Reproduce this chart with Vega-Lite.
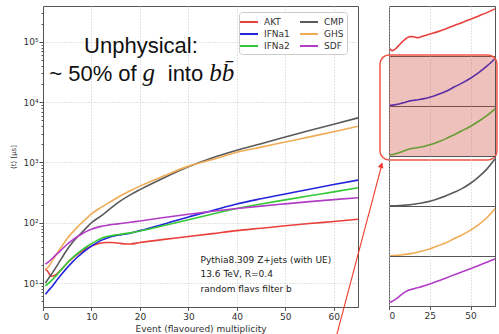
{
  "$schema": "https://vega.github.io/schema/vega-lite/v6.json",
  "background": "white",
  "padding": {"left": 9, "top": 5, "right": 0, "bottom": 0},
  "autosize": {"type": "pad"},
  "bounds": "flush",
  "spacing": 31,
  "config": {
    "font": "DejaVu Sans",
    "view": {"stroke": "#555", "strokeWidth": 1},
    "axis": {
      "labelFont": "DejaVu Sans", "labelFontSize": 9, "labelColor": "#333",
      "titleFont": "DejaVu Sans", "titleFontSize": 9, "titleFontWeight": "normal", "titleColor": "#333",
      "domainColor": "#555", "tickColor": "#555", "gridColor": "#c8c8c8", "gridDash": [1, 2]
    }
  },
  "datasets": {
    "curves": [
      {"series":"AKT","x":0.5,"y":17},{"series":"AKT","x":1,"y":15.5},{"series":"AKT","x":1.7,"y":13},{"series":"AKT","x":2.5,"y":13.5},{"series":"AKT","x":3,"y":14.5},{"series":"AKT","x":4,"y":17.5},{"series":"AKT","x":5,"y":21.5},{"series":"AKT","x":6,"y":25.5},{"series":"AKT","x":7,"y":29.5},{"series":"AKT","x":8,"y":33.5},{"series":"AKT","x":9,"y":37.5},{"series":"AKT","x":10,"y":41},{"series":"AKT","x":11,"y":44},{"series":"AKT","x":12,"y":46},{"series":"AKT","x":13,"y":47},{"series":"AKT","x":14,"y":47},{"series":"AKT","x":15,"y":46.5},{"series":"AKT","x":16,"y":45.5},{"series":"AKT","x":17,"y":44.5},{"series":"AKT","x":18,"y":44.5},{"series":"AKT","x":20,"y":47},{"series":"AKT","x":25,"y":53},{"series":"AKT","x":30,"y":59},{"series":"AKT","x":35,"y":66},{"series":"AKT","x":40,"y":74},{"series":"AKT","x":45,"y":81},{"series":"AKT","x":50,"y":89},{"series":"AKT","x":55,"y":97},{"series":"AKT","x":60,"y":105},{"series":"AKT","x":65,"y":114},
      {"series":"IFNa1","x":0.5,"y":6.5},{"series":"IFNa1","x":1,"y":7.3},{"series":"IFNa1","x":2,"y":9},{"series":"IFNa1","x":3,"y":11.5},{"series":"IFNa1","x":4,"y":14.5},{"series":"IFNa1","x":5,"y":18},{"series":"IFNa1","x":6,"y":22},{"series":"IFNa1","x":7,"y":26.5},{"series":"IFNa1","x":8,"y":31},{"series":"IFNa1","x":9,"y":36},{"series":"IFNa1","x":10,"y":41},{"series":"IFNa1","x":11,"y":46},{"series":"IFNa1","x":12,"y":51},{"series":"IFNa1","x":13,"y":55},{"series":"IFNa1","x":14,"y":58.5},{"series":"IFNa1","x":15,"y":61},{"series":"IFNa1","x":16,"y":63},{"series":"IFNa1","x":18,"y":67},{"series":"IFNa1","x":20,"y":74},{"series":"IFNa1","x":25,"y":95},{"series":"IFNa1","x":30,"y":125},{"series":"IFNa1","x":35,"y":160},{"series":"IFNa1","x":40,"y":205},{"series":"IFNa1","x":45,"y":250},{"series":"IFNa1","x":50,"y":300},{"series":"IFNa1","x":55,"y":360},{"series":"IFNa1","x":60,"y":430},{"series":"IFNa1","x":65,"y":510},
      {"series":"IFNa2","x":0.5,"y":9},{"series":"IFNa2","x":1,"y":9.7},{"series":"IFNa2","x":2,"y":11.5},{"series":"IFNa2","x":3,"y":14},{"series":"IFNa2","x":4,"y":17.5},{"series":"IFNa2","x":5,"y":21.5},{"series":"IFNa2","x":6,"y":26},{"series":"IFNa2","x":7,"y":30.5},{"series":"IFNa2","x":8,"y":35},{"series":"IFNa2","x":9,"y":40},{"series":"IFNa2","x":10,"y":45},{"series":"IFNa2","x":11,"y":50},{"series":"IFNa2","x":12,"y":55},{"series":"IFNa2","x":13,"y":58.5},{"series":"IFNa2","x":14,"y":61},{"series":"IFNa2","x":15,"y":63},{"series":"IFNa2","x":16,"y":64.5},{"series":"IFNa2","x":18,"y":68},{"series":"IFNa2","x":20,"y":73},{"series":"IFNa2","x":25,"y":90},{"series":"IFNa2","x":30,"y":112},{"series":"IFNa2","x":35,"y":140},{"series":"IFNa2","x":40,"y":172},{"series":"IFNa2","x":45,"y":205},{"series":"IFNa2","x":50,"y":240},{"series":"IFNa2","x":55,"y":280},{"series":"IFNa2","x":60,"y":325},{"series":"IFNa2","x":65,"y":380},
      {"series":"CMP","x":0.5,"y":10},{"series":"CMP","x":1,"y":11.5},{"series":"CMP","x":2,"y":15},{"series":"CMP","x":3,"y":20},{"series":"CMP","x":4,"y":27},{"series":"CMP","x":5,"y":36},{"series":"CMP","x":6,"y":46},{"series":"CMP","x":7,"y":57},{"series":"CMP","x":8,"y":69},{"series":"CMP","x":9,"y":83},{"series":"CMP","x":10,"y":100},{"series":"CMP","x":12,"y":130},{"series":"CMP","x":14,"y":175},{"series":"CMP","x":16,"y":230},{"series":"CMP","x":18,"y":290},{"series":"CMP","x":20,"y":355},{"series":"CMP","x":25,"y":560},{"series":"CMP","x":30,"y":850},{"series":"CMP","x":35,"y":1200},{"series":"CMP","x":40,"y":1600},{"series":"CMP","x":45,"y":2050},{"series":"CMP","x":50,"y":2650},{"series":"CMP","x":55,"y":3400},{"series":"CMP","x":60,"y":4300},{"series":"CMP","x":65,"y":5500},
      {"series":"GHS","x":0.5,"y":17},{"series":"GHS","x":1,"y":18},{"series":"GHS","x":2,"y":24},{"series":"GHS","x":3,"y":32},{"series":"GHS","x":4,"y":42},{"series":"GHS","x":5,"y":55},{"series":"GHS","x":6,"y":68},{"series":"GHS","x":7,"y":83},{"series":"GHS","x":8,"y":100},{"series":"GHS","x":9,"y":118},{"series":"GHS","x":10,"y":140},{"series":"GHS","x":12,"y":180},{"series":"GHS","x":14,"y":225},{"series":"GHS","x":16,"y":280},{"series":"GHS","x":18,"y":340},{"series":"GHS","x":20,"y":405},{"series":"GHS","x":25,"y":600},{"series":"GHS","x":30,"y":870},{"series":"GHS","x":35,"y":1120},{"series":"GHS","x":40,"y":1480},{"series":"GHS","x":45,"y":1800},{"series":"GHS","x":50,"y":2190},{"series":"GHS","x":55,"y":2660},{"series":"GHS","x":60,"y":3240},{"series":"GHS","x":65,"y":4000},
      {"series":"SDF","x":0.5,"y":20.5},{"series":"SDF","x":1,"y":22},{"series":"SDF","x":2,"y":26},{"series":"SDF","x":3,"y":31},{"series":"SDF","x":4,"y":37},{"series":"SDF","x":5,"y":44},{"series":"SDF","x":6,"y":51},{"series":"SDF","x":7,"y":58},{"series":"SDF","x":8,"y":65},{"series":"SDF","x":9,"y":72},{"series":"SDF","x":10,"y":78},{"series":"SDF","x":11,"y":83},{"series":"SDF","x":12,"y":87},{"series":"SDF","x":13,"y":90},{"series":"SDF","x":14,"y":93},{"series":"SDF","x":15,"y":95},{"series":"SDF","x":16,"y":97},{"series":"SDF","x":18,"y":102},{"series":"SDF","x":20,"y":107},{"series":"SDF","x":25,"y":122},{"series":"SDF","x":30,"y":138},{"series":"SDF","x":35,"y":155},{"series":"SDF","x":40,"y":172},{"series":"SDF","x":45,"y":189},{"series":"SDF","x":50,"y":206},{"series":"SDF","x":55,"y":224},{"series":"SDF","x":60,"y":242},{"series":"SDF","x":65,"y":260}
    ]
  },
  "hconcat": [
    {
      "width": 315,
      "height": 301,
      "encoding": {
        "x": {"field": "x", "type": "quantitative", "scale": {"domain": [0, 65], "nice": false, "zero": false},
          "axis": {"title": "Event (flavoured) multiplicity", "values": [0, 10, 20, 30, 40, 50, 60], "grid": true, "tickSize": 3.5, "labelPadding": 2, "titlePadding": 3}},
        "y": {"field": "y", "type": "quantitative", "scale": {"type": "log", "domain": [4, 395000], "nice": false},
          "axis": {"title": "⟨t⟩ [μs]", "titleFontSize": 7, "titlePadding": 6, "labelPadding": 1, "labelOverlap": false,
            "values": [5,6,7,8,9,10,20,30,40,50,60,70,80,90,100,200,300,400,500,600,700,800,900,1000,2000,3000,4000,5000,6000,7000,8000,9000,10000,20000,30000,40000,50000,60000,70000,80000,90000,100000,200000,300000],
            "labelExpr": "datum.value==10?'10¹':datum.value==100?'10²':datum.value==1000?'10³':datum.value==10000?'10⁴':datum.value==100000?'10⁵':''",
            "tickSize": {"condition": {"test": "indexof([10,100,1000,10000,100000], datum.value) >= 0", "value": 4}, "value": 2},
            "gridOpacity": {"condition": {"test": "indexof([10,100,1000,10000,100000], datum.value) >= 0", "value": 1}, "value": 0}}}
      },
      "layer": [
        {
          "data": {"name": "curves"},
          "mark": {"type": "line", "strokeWidth": 1.6, "interpolate": "monotone"},
          "encoding": {
            "color": {"field": "series", "type": "nominal",
              "scale": {"domain": ["AKT", "IFNa1", "IFNa2", "CMP", "GHS", "SDF"], "range": ["#e8413c", "#2424dc", "#34c834", "#5a5a5a", "#f0ac55", "#b23cc6"]},
              "legend": {"title": null, "orient": "none", "legendX": 196, "legendY": 6, "columns": 2,
                "symbolType": "M-1.5,0H1.5", "symbolStrokeWidth": 2, "symbolSize": 144, "labelFontSize": 9, "labelColor": "#333",
                "labelOffset": 8, "columnPadding": 6, "rowPadding": 0, "padding": 3,
                "strokeColor": "#ccc", "fillColor": "white", "cornerRadius": 3}}
          }
        },
        {
          "data": {"values": [
            {"t": "Unphysical:", "x": 20.2, "y": 65000},
            {"t": "~ 50% of", "x": 10.3, "y": 22400},
            {"t": "into", "x": 29.4, "y": 22400}
          ]},
          "mark": {"type": "text", "font": "Liberation Sans", "fontSize": 22, "align": "center", "baseline": "alphabetic", "color": "#111"},
          "encoding": {"text": {"field": "t"}}
        },
        {
          "data": {"values": [
            {"t": "g", "x": 21.8, "y": 22400},
            {"t": "bb̄", "x": 36.9, "y": 22400}
          ]},
          "mark": {"type": "text", "font": "Liberation Serif", "fontStyle": "italic", "fontSize": 25, "align": "center", "baseline": "alphabetic", "color": "#111"},
          "encoding": {"text": {"field": "t"}}
        },
        {
          "data": {"values": [
            {"t": "Pythia8.309 Z+jets (with UE)", "x": 32.5, "y": 21.4},
            {"t": "13.6 TeV, R=0.4", "x": 32.5, "y": 12.6},
            {"t": "random flavs filter b", "x": 32.5, "y": 7.2}
          ]},
          "mark": {"type": "text", "font": "DejaVu Sans", "fontSize": 9, "align": "left", "baseline": "alphabetic", "color": "#222"},
          "encoding": {"text": {"field": "t"}}
        },
        {
          "data": {"values": [{"x": 60.6, "y": 1.37, "x2": 70.0, "y2": 977}]},
          "mark": {"type": "rule", "color": "#f03a2a", "strokeWidth": 1.1},
          "encoding": {"x2": {"field": "x2"}, "y2": {"field": "y2"}}
        },
        {
          "data": {"values": [{"x": 69.8, "y": 900}]},
          "mark": {"type": "point", "shape": "triangle-up", "angle": 14.5, "size": 35, "filled": true, "color": "#f03a2a", "opacity": 1},
          "encoding": {}
        }
      ]
    },
    {
      "spacing": 0,
      "bounds": "flush",
      "vconcat": [
        {
          "width": 106, "height": 50,
          "data": {"name": "curves"},
          "transform": [{"filter": "datum.series == 'AKT'"}],
          "mark": {"type": "line", "color": "#e8413c", "strokeWidth": 1.6, "interpolate": "monotone"},
          "encoding": {
            "x": {"field": "x", "type": "quantitative", "scale": {"domain": [0, 65], "nice": false, "zero": false}, "axis": {"labels": false, "ticks": false, "domain": false, "title": null, "values": [0, 25, 50], "grid": true}},
            "y": {"field": "y", "type": "quantitative", "scale": {"domain": [0, 121], "nice": false}, "axis": null}
          }
        },
        {
          "width": 106, "height": 50,
          "encoding": {
            "x": {"field": "x", "type": "quantitative", "scale": {"domain": [0, 65], "nice": false, "zero": false}, "axis": {"labels": false, "ticks": false, "domain": false, "title": null, "values": [0, 25, 50], "grid": true}},
            "y": {"field": "y", "type": "quantitative", "scale": {"domain": [0, 540], "nice": false}, "axis": null}
          },
          "layer": [
            {
              "data": {"name": "curves"},
              "transform": [{"filter": "datum.series == 'IFNa1'"}],
              "mark": {"type": "line", "color": "#2424dc", "strokeWidth": 1.6, "interpolate": "monotone"}
            },
            {
              "data": {"values": [{"x": 0, "x2": 65, "y": 0, "y2": 540}]},
              "mark": {"type": "rect", "color": "#cc4433", "opacity": 0.33},
              "encoding": {"x2": {"field": "x2"}, "y2": {"field": "y2"}}
            }
          ]
        },
        {
          "width": 106, "height": 50,
          "encoding": {
            "x": {"field": "x", "type": "quantitative", "scale": {"domain": [0, 65], "nice": false, "zero": false}, "axis": {"labels": false, "ticks": false, "domain": false, "title": null, "values": [0, 25, 50], "grid": true}},
            "y": {"field": "y", "type": "quantitative", "scale": {"domain": [0, 403], "nice": false}, "axis": null}
          },
          "layer": [
            {
              "data": {"name": "curves"},
              "transform": [{"filter": "datum.series == 'IFNa2'"}],
              "mark": {"type": "line", "color": "#34c834", "strokeWidth": 1.6, "interpolate": "monotone"}
            },
            {
              "data": {"values": [{"x": 0, "x2": 65, "y": 0, "y2": 403}]},
              "mark": {"type": "rect", "color": "#cc4433", "opacity": 0.33},
              "encoding": {"x2": {"field": "x2"}, "y2": {"field": "y2"}}
            },
            {
              "data": {"values": [{"x": -5.5, "x2": 66.2, "y": -32, "y2": 814}]},
              "mark": {"type": "rect", "filled": false, "fill": null, "stroke": "#f05545", "strokeWidth": 1.5, "cornerRadius": 9},
              "encoding": {"x2": {"field": "x2"}, "y2": {"field": "y2"}}
            }
          ]
        },
        {
          "width": 106, "height": 50,
          "data": {"name": "curves"},
          "transform": [{"filter": "datum.series == 'CMP'"}],
          "mark": {"type": "line", "color": "#5a5a5a", "strokeWidth": 1.6, "interpolate": "monotone"},
          "encoding": {
            "x": {"field": "x", "type": "quantitative", "scale": {"domain": [0, 65], "nice": false, "zero": false}, "axis": {"labels": false, "ticks": false, "domain": false, "title": null, "values": [0, 25, 50], "grid": true}},
            "y": {"field": "y", "type": "quantitative", "scale": {"domain": [0, 5830], "nice": false}, "axis": null}
          }
        },
        {
          "width": 106, "height": 50,
          "data": {"name": "curves"},
          "transform": [{"filter": "datum.series == 'GHS'"}],
          "mark": {"type": "line", "color": "#f0ac55", "strokeWidth": 1.6, "interpolate": "monotone"},
          "encoding": {
            "x": {"field": "x", "type": "quantitative", "scale": {"domain": [0, 65], "nice": false, "zero": false}, "axis": {"labels": false, "ticks": false, "domain": false, "title": null, "values": [0, 25, 50], "grid": true}},
            "y": {"field": "y", "type": "quantitative", "scale": {"domain": [0, 4240], "nice": false}, "axis": null}
          }
        },
        {
          "width": 106, "height": 50,
          "data": {"name": "curves"},
          "transform": [{"filter": "datum.series == 'SDF'"}],
          "mark": {"type": "line", "color": "#b23cc6", "strokeWidth": 1.6, "interpolate": "monotone"},
          "encoding": {
            "x": {"field": "x", "type": "quantitative", "scale": {"domain": [0, 65], "nice": false, "zero": false}, "axis": {"title": null, "values": [0, 25, 50], "grid": true, "tickSize": 3.5, "labelPadding": 2}},
            "y": {"field": "y", "type": "quantitative", "scale": {"domain": [0, 276], "nice": false}, "axis": null}
          }
        }
      ]
    }
  ]
}
